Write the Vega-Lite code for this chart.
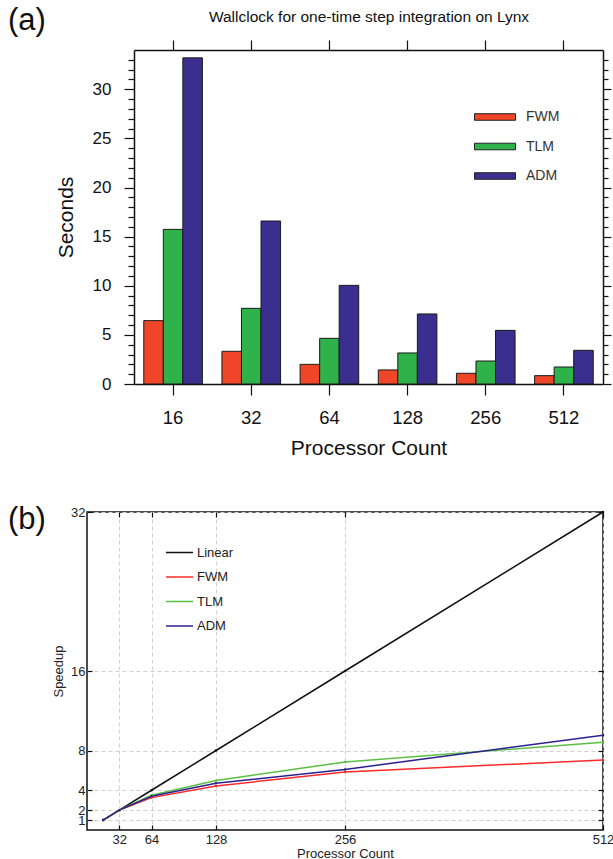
{
  "$schema": "https://vega.github.io/schema/vega-lite/v6.json",
  "padding": {"left": 7, "top": 5, "right": 0, "bottom": 0},
  "spacing": 44,
  "resolve": {"scale": {"color": "independent"}, "legend": {"color": "independent"}},
  "datasets": {
    "wall": [
      {"Procs": 16, "Model": "FWM", "Seconds": 6.45},
      {"Procs": 16, "Model": "TLM", "Seconds": 15.74},
      {"Procs": 16, "Model": "ADM", "Seconds": 33.2},
      {"Procs": 32, "Model": "FWM", "Seconds": 3.33},
      {"Procs": 32, "Model": "TLM", "Seconds": 7.7},
      {"Procs": 32, "Model": "ADM", "Seconds": 16.59},
      {"Procs": 64, "Model": "FWM", "Seconds": 2.0},
      {"Procs": 64, "Model": "TLM", "Seconds": 4.65},
      {"Procs": 64, "Model": "ADM", "Seconds": 10.04},
      {"Procs": 128, "Model": "FWM", "Seconds": 1.43},
      {"Procs": 128, "Model": "TLM", "Seconds": 3.16},
      {"Procs": 128, "Model": "ADM", "Seconds": 7.13},
      {"Procs": 256, "Model": "FWM", "Seconds": 1.09},
      {"Procs": 256, "Model": "TLM", "Seconds": 2.34},
      {"Procs": 256, "Model": "ADM", "Seconds": 5.46},
      {"Procs": 512, "Model": "FWM", "Seconds": 0.85},
      {"Procs": 512, "Model": "TLM", "Seconds": 1.73},
      {"Procs": 512, "Model": "ADM", "Seconds": 3.43}
    ],
    "speed": [
      {"Procs": 16, "Series": "Linear", "Speedup": 1},
      {"Procs": 32, "Series": "Linear", "Speedup": 2},
      {"Procs": 64, "Series": "Linear", "Speedup": 4},
      {"Procs": 128, "Series": "Linear", "Speedup": 8},
      {"Procs": 256, "Series": "Linear", "Speedup": 16},
      {"Procs": 512, "Series": "Linear", "Speedup": 32},
      {"Procs": 16, "Series": "FWM", "Speedup": 1},
      {"Procs": 32, "Series": "FWM", "Speedup": 2},
      {"Procs": 64, "Series": "FWM", "Speedup": 3.26},
      {"Procs": 128, "Series": "FWM", "Speedup": 4.43},
      {"Procs": 256, "Series": "FWM", "Speedup": 5.84},
      {"Procs": 512, "Series": "FWM", "Speedup": 7.04},
      {"Procs": 16, "Series": "TLM", "Speedup": 1},
      {"Procs": 32, "Series": "TLM", "Speedup": 2},
      {"Procs": 64, "Series": "TLM", "Speedup": 3.49},
      {"Procs": 128, "Series": "TLM", "Speedup": 4.97},
      {"Procs": 256, "Series": "TLM", "Speedup": 6.85},
      {"Procs": 512, "Series": "TLM", "Speedup": 8.84},
      {"Procs": 16, "Series": "ADM", "Speedup": 1},
      {"Procs": 32, "Series": "ADM", "Speedup": 2},
      {"Procs": 64, "Series": "ADM", "Speedup": 3.39},
      {"Procs": 128, "Series": "ADM", "Speedup": 4.7},
      {"Procs": 256, "Series": "ADM", "Speedup": 6.1},
      {"Procs": 512, "Series": "ADM", "Speedup": 9.53}
    ]
  },
  "config": {
    "font": "Liberation Sans",
    "view": {"stroke": "#111", "strokeWidth": 1.5},
    "axis": {
      "domain": false, "grid": false, "tickColor": "#111", "tickWidth": 1.2, "labelOverlap": false,
      "labelColor": "#111", "titleColor": "#111", "labelFont": "Liberation Sans",
      "titleFont": "Liberation Sans", "titleFontWeight": "normal", "domainColor": "#111", "domainWidth": 1.5
    },
    "legend": {"labelFont": "Liberation Sans"},
    "title": {"font": "Liberation Sans", "fontWeight": "normal", "color": "#111"}
  },
  "vconcat": [
    {
      "width": 516,
      "height": 334,
      "view": {"stroke": null},
      "title": {"text": "(a)", "anchor": "start", "frame": "group", "dx": -79, "offset": -28, "fontSize": 31},
      "data": {"name": "wall"},
      "resolve": {"axis": {"x": "independent", "y": "independent"}},
      "layer": [
        {
          "mark": {"type": "bar", "stroke": "#1a1a1a", "strokeWidth": 1},
          "encoding": {
            "x": {
              "field": "Procs", "type": "ordinal",
              "scale": {"domain": [16, 32, 64, 128, 256, 512], "range": [47, 516], "paddingInner": 0.25, "paddingOuter": 0.125},
              "axis": {"orient": "bottom", "domain": true, "tickSize": 11, "labelAngle": 0, "labelFontSize": 18.5, "labelPadding": 13,
                       "title": "Processor Count", "titleFontSize": 21, "titlePadding": 11, "titleX": 281.5}
            },
            "xOffset": {"field": "Model", "type": "nominal", "scale": {"domain": ["FWM", "TLM", "ADM"]}},
            "y": {
              "field": "Seconds", "type": "quantitative",
              "scale": {"domain": [0, 34], "nice": false, "zero": true},
              "axis": {"orient": "left", "offset": -47, "domain": true, "values": [0, 5, 10, 15, 20, 25, 30], "tickSize": 10, "labelFontSize": 17,
                       "labelPadding": 13, "title": "Seconds", "titleFontSize": 21, "titlePadding": 16}
            },
            "color": {
              "field": "Model", "type": "nominal",
              "scale": {"domain": ["FWM", "TLM", "ADM"], "range": ["#ef4528", "#30b24b", "#3a2f8e"]},
              "legend": {
                "orient": "none", "legendX": 387, "legendY": 46, "title": null,
                "symbolType": "M-1,-0.16H1V0.16H-1Z", "symbolSize": 1681,
                "symbolStrokeColor": "#222", "symbolStrokeWidth": 1,
                "labelFontSize": 14, "labelColor": "#333", "labelOffset": 10, "rowPadding": 1.5
              }
            }
          }
        },
        {
          "mark": {"type": "point", "opacity": 0},
          "encoding": {
            "x": {"field": "Procs", "type": "ordinal",
                  "axis": {"orient": "top", "domain": true, "tickSize": 10, "labels": false,
                           "title": "Wallclock for one-time step integration on Lynx", "titleFontSize": 15.5, "titlePadding": 15, "titleX": 281.5}},
            "y": {"field": "Seconds", "type": "quantitative",
                  "axis": {"orient": "right", "domain": true, "values": [0, 5, 10, 15, 20, 25, 30], "tickSize": 8, "labels": false, "title": null}}
          }
        },
        {
          "mark": {"type": "point", "opacity": 0},
          "encoding": {
            "x": {"field": "Procs", "type": "ordinal", "axis": null},
            "y": {"field": "Seconds", "type": "quantitative",
                  "axis": {"orient": "left", "offset": -47, "values": [1,2,3,4,6,7,8,9,11,12,13,14,16,17,18,19,21,22,23,24,26,27,28,29,31,32,33], "tickSize": 6, "labels": false, "title": null}}
          }
        },
        {
          "mark": {"type": "point", "opacity": 0},
          "encoding": {
            "x": {"field": "Procs", "type": "ordinal", "axis": null},
            "y": {"field": "Seconds", "type": "quantitative",
                  "axis": {"orient": "right", "values": [1,2,3,4,6,7,8,9,11,12,13,14,16,17,18,19,21,22,23,24,26,27,28,29,31,32,33], "tickSize": 5, "labels": false, "title": null}}
          }
        }
      ]
    },
    {
      "width": 516,
      "height": 318,
      "title": {"text": "(b)", "anchor": "start", "frame": "group", "dx": -79, "offset": -30, "fontSize": 31},
      "data": {"name": "speed"},
      "resolve": {"axis": {"x": "independent", "y": "independent"}},
      "layer": [
        {
          "mark": {"type": "line", "strokeWidth": 1.5, "point": {"filled": true, "size": 6}},
          "encoding": {
            "x": {
              "field": "Procs", "type": "quantitative",
              "scale": {"domain": [0, 512], "nice": false, "zero": true},
              "axis": {"orient": "bottom", "values": [32, 64, 128, 256, 512], "ticks": false, "labelFontSize": 13,
                       "labelPadding": 3, "labelColor": "#222", "grid": true, "gridDash": [4, 3], "gridColor": "#d0d0d0",
                       "title": "Processor Count", "titleFontSize": 13, "titlePadding": 1, "titleColor": "#222", "labelFlush": false}
            },
            "y": {
              "field": "Speedup", "type": "quantitative",
              "scale": {"domain": [0, 32], "nice": false},
              "axis": {"orient": "left", "values": [1, 2, 4, 8, 16, 32], "ticks": false, "labelFontSize": 13,
                       "labelPadding": 2, "labelColor": "#222", "grid": true, "gridDash": [4, 3], "gridColor": "#d0d0d0",
                       "title": "Speedup", "titleFontSize": 13, "titlePadding": 5, "titleColor": "#222", "labelFlush": false}
            },
            "color": {
              "field": "Series", "type": "nominal",
              "scale": {"domain": ["Linear", "FWM", "TLM", "ADM"], "range": ["#111111", "#ff2a2a", "#5cbf45", "#2e218f"]},
              "legend": {
                "orient": "none", "legendX": 78, "legendY": 26, "title": null,
                "symbolType": "stroke", "symbolSize": 729, "symbolStrokeWidth": 1.5,
                "labelFontSize": 13, "labelColor": "#222", "labelOffset": 3, "rowPadding": 2.5
              }
            }
          }
        },
        {
          "mark": {"type": "point", "opacity": 0},
          "encoding": {
            "x": {"field": "Procs", "type": "quantitative",
                  "axis": {"orient": "top", "values": [32, 64, 128, 256, 512], "tickSize": -5, "labels": false, "title": null}},
            "y": {"field": "Speedup", "type": "quantitative",
                  "axis": {"orient": "right", "values": [1, 2, 4, 8, 16, 32], "tickSize": -5, "labels": false, "title": null}}
          }
        },
        {
          "mark": {"type": "point", "opacity": 0},
          "encoding": {
            "x": {"field": "Procs", "type": "quantitative",
                  "axis": {"orient": "bottom", "values": [32, 64, 128, 256, 512], "tickSize": -5, "labels": false, "title": null}},
            "y": {"field": "Speedup", "type": "quantitative",
                  "axis": {"orient": "left", "values": [1, 2, 4, 8, 16, 32], "tickSize": -5, "labels": false, "title": null}}
          }
        }
      ]
    }
  ]
}
